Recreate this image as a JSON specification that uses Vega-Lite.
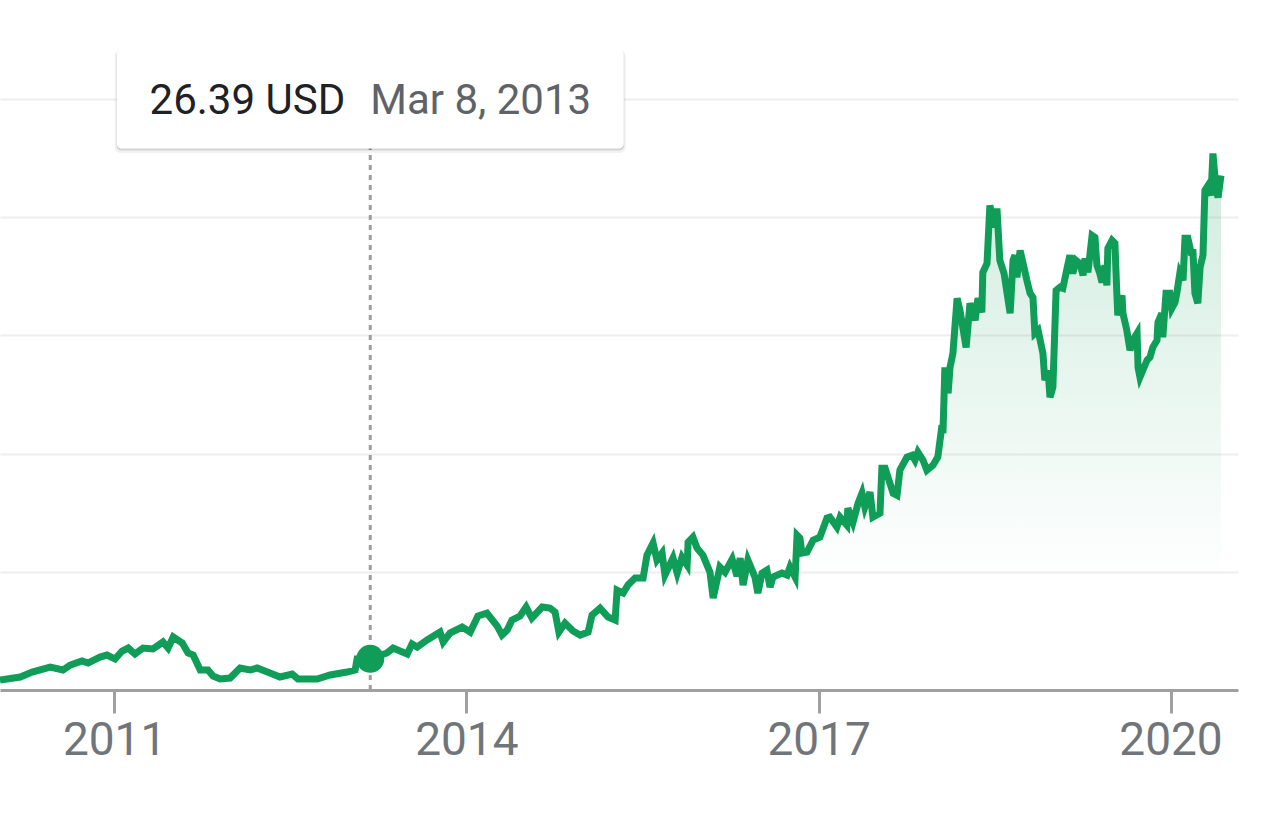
{
  "$schema": "https://vega.github.io/schema/vega-lite/v6.json",
  "width": 1238,
  "height": 591,
  "autosize": {"type": "none"},
  "padding": {"left": 0, "top": 99, "right": 48, "bottom": 134},
  "background": "white",
  "config": {"view": {"stroke": null}, "font": "Roboto"},
  "datasets": {
    "prices": [
      {"date": "2010-01-11", "price": 8.5},
      {"date": "2010-03-15", "price": 11.0},
      {"date": "2010-04-21", "price": 15.2},
      {"date": "2010-06-16", "price": 19.4},
      {"date": "2010-07-26", "price": 16.9},
      {"date": "2010-08-17", "price": 21.1},
      {"date": "2010-09-23", "price": 24.5},
      {"date": "2010-10-12", "price": 22.8},
      {"date": "2010-11-18", "price": 27.9},
      {"date": "2010-12-10", "price": 29.6},
      {"date": "2011-01-04", "price": 26.2},
      {"date": "2011-01-26", "price": 33.0},
      {"date": "2011-02-14", "price": 35.5},
      {"date": "2011-03-07", "price": 30.4},
      {"date": "2011-04-01", "price": 35.5},
      {"date": "2011-05-02", "price": 34.7},
      {"date": "2011-06-02", "price": 40.6},
      {"date": "2011-06-18", "price": 35.5},
      {"date": "2011-07-04", "price": 44.8},
      {"date": "2011-08-01", "price": 39.7},
      {"date": "2011-08-19", "price": 31.3},
      {"date": "2011-09-04", "price": 29.6},
      {"date": "2011-09-26", "price": 16.9},
      {"date": "2011-10-20", "price": 16.9},
      {"date": "2011-11-05", "price": 11.8},
      {"date": "2011-11-27", "price": 9.3},
      {"date": "2011-12-28", "price": 10.1},
      {"date": "2012-01-28", "price": 18.6},
      {"date": "2012-02-28", "price": 16.9},
      {"date": "2012-03-21", "price": 18.6},
      {"date": "2012-04-30", "price": 14.4},
      {"date": "2012-05-31", "price": 11.0},
      {"date": "2012-07-08", "price": 13.5},
      {"date": "2012-07-26", "price": 9.3},
      {"date": "2012-09-24", "price": 9.3},
      {"date": "2012-11-03", "price": 12.7},
      {"date": "2012-12-26", "price": 15.2},
      {"date": "2013-01-20", "price": 16.9},
      {"date": "2013-01-26", "price": 26.2},
      {"date": "2013-03-08", "price": 26.39},
      {"date": "2013-04-29", "price": 31.3},
      {"date": "2013-05-18", "price": 35.5},
      {"date": "2013-07-01", "price": 30.4},
      {"date": "2013-07-16", "price": 38.9},
      {"date": "2013-08-01", "price": 36.3},
      {"date": "2013-09-01", "price": 42.3},
      {"date": "2013-10-11", "price": 49.0},
      {"date": "2013-10-21", "price": 40.6},
      {"date": "2013-11-11", "price": 48.2},
      {"date": "2013-12-19", "price": 53.3},
      {"date": "2014-01-13", "price": 49.0},
      {"date": "2014-02-06", "price": 62.6},
      {"date": "2014-03-06", "price": 65.1},
      {"date": "2014-04-07", "price": 54.1},
      {"date": "2014-04-22", "price": 46.5},
      {"date": "2014-05-08", "price": 50.7},
      {"date": "2014-05-23", "price": 59.2},
      {"date": "2014-06-17", "price": 62.6},
      {"date": "2014-07-06", "price": 70.2},
      {"date": "2014-07-24", "price": 60.9},
      {"date": "2014-08-25", "price": 70.2},
      {"date": "2014-09-18", "price": 69.3},
      {"date": "2014-10-04", "price": 65.9},
      {"date": "2014-10-16", "price": 49.0},
      {"date": "2014-11-04", "price": 56.6},
      {"date": "2014-11-29", "price": 49.9},
      {"date": "2014-12-21", "price": 46.5},
      {"date": "2015-01-15", "price": 49.0},
      {"date": "2015-01-27", "price": 63.4},
      {"date": "2015-02-21", "price": 69.3},
      {"date": "2015-03-18", "price": 61.7},
      {"date": "2015-04-09", "price": 59.2},
      {"date": "2015-04-15", "price": 84.5},
      {"date": "2015-05-04", "price": 82.0},
      {"date": "2015-05-19", "price": 88.8},
      {"date": "2015-06-10", "price": 94.7},
      {"date": "2015-07-05", "price": 94.7},
      {"date": "2015-07-17", "price": 114.1},
      {"date": "2015-08-05", "price": 124.3},
      {"date": "2015-08-17", "price": 109.9},
      {"date": "2015-09-02", "price": 115.8},
      {"date": "2015-09-11", "price": 97.2},
      {"date": "2015-10-06", "price": 111.6},
      {"date": "2015-10-19", "price": 98.9},
      {"date": "2015-11-03", "price": 112.4},
      {"date": "2015-11-19", "price": 105.7},
      {"date": "2015-11-22", "price": 125.1},
      {"date": "2015-12-07", "price": 129.3},
      {"date": "2015-12-20", "price": 120.0},
      {"date": "2016-01-07", "price": 114.1},
      {"date": "2016-01-29", "price": 99.7},
      {"date": "2016-02-08", "price": 77.8},
      {"date": "2016-02-29", "price": 104.0},
      {"date": "2016-03-16", "price": 99.7},
      {"date": "2016-04-07", "price": 110.7},
      {"date": "2016-04-22", "price": 96.4},
      {"date": "2016-05-02", "price": 111.6},
      {"date": "2016-05-11", "price": 88.8},
      {"date": "2016-05-26", "price": 109.9},
      {"date": "2016-06-17", "price": 95.5},
      {"date": "2016-06-26", "price": 82.0},
      {"date": "2016-07-09", "price": 98.9},
      {"date": "2016-07-24", "price": 101.4},
      {"date": "2016-08-03", "price": 87.1},
      {"date": "2016-08-12", "price": 95.5},
      {"date": "2016-09-09", "price": 98.9},
      {"date": "2016-09-25", "price": 97.2},
      {"date": "2016-10-04", "price": 104.0},
      {"date": "2016-10-20", "price": 95.5},
      {"date": "2016-10-26", "price": 131.0},
      {"date": "2016-11-04", "price": 128.5},
      {"date": "2016-11-10", "price": 115.8},
      {"date": "2016-11-26", "price": 116.7},
      {"date": "2016-12-15", "price": 126.8},
      {"date": "2017-01-05", "price": 129.3},
      {"date": "2017-01-27", "price": 145.4},
      {"date": "2017-02-05", "price": 146.2},
      {"date": "2017-02-27", "price": 137.8},
      {"date": "2017-03-09", "price": 146.2},
      {"date": "2017-03-30", "price": 139.5},
      {"date": "2017-04-02", "price": 153.8},
      {"date": "2017-04-18", "price": 142.0},
      {"date": "2017-05-04", "price": 158.1},
      {"date": "2017-05-16", "price": 166.5},
      {"date": "2017-05-25", "price": 154.7},
      {"date": "2017-06-10", "price": 167.4},
      {"date": "2017-06-19", "price": 146.2},
      {"date": "2017-07-11", "price": 149.6},
      {"date": "2017-07-17", "price": 187.7},
      {"date": "2017-07-27", "price": 187.7},
      {"date": "2017-08-21", "price": 166.5},
      {"date": "2017-09-02", "price": 164.8},
      {"date": "2017-09-11", "price": 186.0},
      {"date": "2017-10-03", "price": 197.0},
      {"date": "2017-10-19", "price": 198.6},
      {"date": "2017-10-28", "price": 194.4},
      {"date": "2017-11-06", "price": 201.2},
      {"date": "2017-11-22", "price": 194.4},
      {"date": "2017-12-04", "price": 186.0},
      {"date": "2017-12-23", "price": 190.2},
      {"date": "2018-01-07", "price": 197.0},
      {"date": "2018-01-20", "price": 224.0},
      {"date": "2018-01-23", "price": 217.2},
      {"date": "2018-01-29", "price": 273.0},
      {"date": "2018-02-08", "price": 251.1},
      {"date": "2018-02-14", "price": 273.0},
      {"date": "2018-02-23", "price": 284.9},
      {"date": "2018-03-08", "price": 331.4},
      {"date": "2018-03-17", "price": 321.2},
      {"date": "2018-04-05", "price": 289.9},
      {"date": "2018-04-17", "price": 327.1},
      {"date": "2018-05-03", "price": 312.8},
      {"date": "2018-05-12", "price": 331.4},
      {"date": "2018-05-24", "price": 319.5},
      {"date": "2018-05-27", "price": 353.3},
      {"date": "2018-06-09", "price": 360.9},
      {"date": "2018-06-18", "price": 410.0},
      {"date": "2018-07-01", "price": 391.4},
      {"date": "2018-07-10", "price": 407.4},
      {"date": "2018-07-19", "price": 363.5},
      {"date": "2018-08-01", "price": 352.5},
      {"date": "2018-08-20", "price": 318.7},
      {"date": "2018-08-29", "price": 363.5},
      {"date": "2018-09-04", "price": 367.7},
      {"date": "2018-09-10", "price": 349.1},
      {"date": "2018-09-20", "price": 371.9},
      {"date": "2018-10-02", "price": 357.6},
      {"date": "2018-10-11", "price": 346.6},
      {"date": "2018-10-21", "price": 335.6},
      {"date": "2018-10-30", "price": 332.2},
      {"date": "2018-11-05", "price": 301.8},
      {"date": "2018-11-15", "price": 304.3},
      {"date": "2018-11-30", "price": 284.9},
      {"date": "2018-12-06", "price": 262.1},
      {"date": "2018-12-16", "price": 270.5},
      {"date": "2018-12-22", "price": 247.7},
      {"date": "2018-12-31", "price": 256.1},
      {"date": "2019-01-10", "price": 338.1},
      {"date": "2019-01-22", "price": 340.7},
      {"date": "2019-01-31", "price": 339.8},
      {"date": "2019-02-13", "price": 356.7},
      {"date": "2019-02-22", "price": 367.7},
      {"date": "2019-03-03", "price": 352.5},
      {"date": "2019-03-13", "price": 363.5},
      {"date": "2019-03-25", "price": 360.9},
      {"date": "2019-04-04", "price": 350.8},
      {"date": "2019-04-10", "price": 365.2},
      {"date": "2019-04-19", "price": 353.3},
      {"date": "2019-05-02", "price": 384.6},
      {"date": "2019-05-11", "price": 382.9},
      {"date": "2019-05-17", "price": 359.3},
      {"date": "2019-05-26", "price": 352.5},
      {"date": "2019-06-02", "price": 344.9},
      {"date": "2019-06-11", "price": 359.3},
      {"date": "2019-06-17", "price": 342.3},
      {"date": "2019-06-20", "price": 373.6},
      {"date": "2019-07-03", "price": 380.4},
      {"date": "2019-07-12", "price": 377.9},
      {"date": "2019-07-18", "price": 335.6},
      {"date": "2019-07-21", "price": 317.0},
      {"date": "2019-08-03", "price": 333.9},
      {"date": "2019-08-06", "price": 318.7},
      {"date": "2019-08-18", "price": 304.3},
      {"date": "2019-08-28", "price": 287.4},
      {"date": "2019-09-06", "price": 295.9},
      {"date": "2019-09-19", "price": 301.8},
      {"date": "2019-09-22", "price": 273.0},
      {"date": "2019-09-28", "price": 264.6},
      {"date": "2019-10-07", "price": 270.5},
      {"date": "2019-10-20", "price": 279.0},
      {"date": "2019-10-29", "price": 281.5},
      {"date": "2019-11-07", "price": 289.9},
      {"date": "2019-11-20", "price": 295.9},
      {"date": "2019-11-23", "price": 311.1},
      {"date": "2019-12-05", "price": 318.7},
      {"date": "2019-12-08", "price": 298.4},
      {"date": "2019-12-18", "price": 335.6},
      {"date": "2019-12-30", "price": 335.6},
      {"date": "2020-01-05", "price": 322.9},
      {"date": "2020-01-15", "price": 328.0},
      {"date": "2020-01-21", "price": 336.4},
      {"date": "2020-01-30", "price": 352.5},
      {"date": "2020-02-09", "price": 346.6},
      {"date": "2020-02-15", "price": 382.1},
      {"date": "2020-02-24", "price": 382.1},
      {"date": "2020-03-05", "price": 370.2},
      {"date": "2020-03-11", "price": 370.2},
      {"date": "2020-03-17", "price": 335.6},
      {"date": "2020-03-26", "price": 327.1},
      {"date": "2020-04-02", "price": 357.6},
      {"date": "2020-04-11", "price": 367.7},
      {"date": "2020-04-17", "price": 422.7},
      {"date": "2020-04-27", "price": 426.9},
      {"date": "2020-05-06", "price": 418.4},
      {"date": "2020-05-12", "price": 453.9},
      {"date": "2020-05-21", "price": 425.2},
      {"date": "2020-05-28", "price": 416.7},
      {"date": "2020-06-06", "price": 435.3}
    ],
    "hover": [
      {"date": "2013-03-08", "price": 26.39, "valueLabel": "26.39 USD", "dateLabel": "Mar 8, 2013"}
    ]
  },
  "encoding": {
    "x": {
      "field": "date",
      "type": "temporal",
      "scale": {"type": "utc", "domain": ["2010-01-11", "2020-07-29"]},
      "axis": {
        "values": [
          {"year": 2011, "month": 1, "date": 1, "utc": true},
          {"year": 2014, "month": 1, "date": 1, "utc": true},
          {"year": 2017, "month": 1, "date": 1, "utc": true},
          {"year": 2020, "month": 1, "date": 1, "utc": true}
        ],
        "format": "%Y",
        "formatType": "utc",
        "title": null,
        "grid": false,
        "labelFont": "Roboto",
        "labelFontSize": 46,
        "labelColor": "#70757a",
        "labelPadding": 5,
        "labelFlush": false,
        "tickSize": 23,
        "tickWidth": 3,
        "tickColor": "#a0a0a0",
        "domainColor": "#a0a0a0",
        "domainWidth": 3
      }
    },
    "y": {
      "field": "price",
      "type": "quantitative",
      "scale": {"domain": [0, 500], "nice": false, "zero": true},
      "axis": {
        "values": [100, 200, 300, 400, 500],
        "grid": true,
        "gridColor": "#eeeeee",
        "gridWidth": 2,
        "domain": false,
        "ticks": false,
        "labels": false,
        "title": null
      }
    }
  },
  "layer": [
    {
      "data": {"name": "prices"},
      "mark": {
        "type": "area",
        "fill": {
          "gradient": "linear",
          "x1": 0, "y1": 0, "x2": 0, "y2": 1,
          "stops": [
            {"offset": 0, "color": "rgba(15,157,88,0.2)"},
            {"offset": 0.8, "color": "rgba(15,157,88,0)"}
          ]
        }
      }
    },
    {
      "data": {"name": "hover"},
      "mark": {"type": "rule", "strokeDash": [5, 5], "color": "#9e9e9e", "strokeWidth": 3},
      "encoding": {"y": {"datum": 0}, "y2": {"datum": 500}}
    },
    {
      "data": {"name": "prices"},
      "mark": {"type": "line", "color": "#0f9d58", "strokeWidth": 7}
    },
    {
      "data": {"name": "hover"},
      "mark": {"type": "circle", "size": 784, "color": "#0f9d58", "opacity": 1}
    },
    {
      "data": {"name": "hover"},
      "mark": {"type": "rect", "width": 511, "height": 103, "cornerRadius": 6, "fill": "#000000", "opacity": 0.05, "yOffset": 2.5},
      "encoding": {"y": {"datum": 500}}
    },
    {
      "data": {"name": "hover"},
      "mark": {"type": "rect", "width": 508, "height": 100, "cornerRadius": 5, "fill": "#000000", "opacity": 0.12, "yOffset": 1.5},
      "encoding": {"y": {"datum": 500}}
    },
    {
      "data": {"name": "hover"},
      "mark": {"type": "rect", "width": 507, "height": 99, "cornerRadius": 5, "fill": "#ffffff"},
      "encoding": {"y": {"datum": 500}}
    },
    {
      "data": {"name": "hover"},
      "mark": {"type": "text", "align": "right", "baseline": "middle", "dx": -25, "dy": 1.5, "fontSize": 42, "font": "Roboto", "color": "#202124"},
      "encoding": {"y": {"datum": 500}, "text": {"field": "valueLabel"}}
    },
    {
      "data": {"name": "hover"},
      "mark": {"type": "text", "align": "left", "baseline": "middle", "dx": 0, "dy": 1.5, "fontSize": 42, "font": "Roboto", "color": "#5f6368"},
      "encoding": {"y": {"datum": 500}, "text": {"field": "dateLabel"}}
    }
  ]
}
